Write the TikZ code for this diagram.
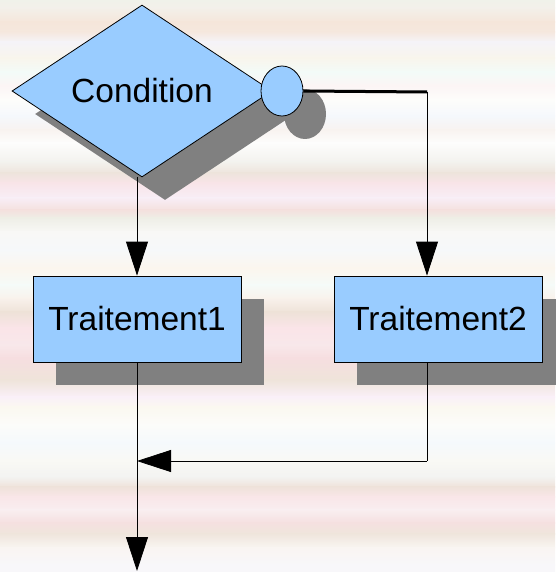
\documentclass[tikz,border=0pt]{standalone}
\usepackage{fontspec}
\setmainfont{Liberation Sans}
\usetikzlibrary{shapes.geometric,arrows.meta,shadows}

\definecolor{boxblue}{HTML}{99CCFF}
\definecolor{shadowgray}{HTML}{808080}

\begin{document}
\begin{tikzpicture}[x=1pt,y=-1pt,
  shadowed/.style={drop shadow={shadow xshift=23pt,shadow yshift=-23pt,
      shadow scale=1,opacity=1,fill=shadowgray,draw=none}},
  shapebase/.style={draw=black,line width=0.8pt,fill=boxblue,inner sep=0pt,
      font=\fontsize{33.5}{40}\selectfont,shadowed},
  decision/.style={shapebase,diamond,aspect=1.51,minimum width=260pt,minimum height=172pt},
  connector/.style={shapebase,ellipse,minimum width=42pt,minimum height=50pt},
  process/.style={shapebase,rectangle,minimum width=208pt,minimum height=86pt},
  link/.style={draw=black,line width=0.8pt},
  flow/.style={link,-{Triangle[length=34pt,width=22pt]}},
  thickflow/.style={draw=black,line width=3pt}
]
% striped pastel background
\useasboundingbox (0,0) rectangle (555,572);
\foreach \ya/\ca/\yb/\cb in {0/F0F2EA/8/F3F0EA, 8/F3F0EA/22/F5E6DA, 22/F5E6DA/32/F5E8DE,
  32/F5E8DE/42/F5F3F8, 42/F5F3F8/58/F8F5EC, 58/F8F5EC/72/F3FBF8, 72/F3FBF8/86/FCF5F5,
  86/FCF5F5/100/FDFDFB, 100/FDFDFB/116/F5F8FC, 116/F5F8FC/130/F8F3F0, 130/F8F3F0/143/FDFDFC,
  143/FDFDFC/162/F3F2EE, 162/F3F2EE/173/EEE4DC, 173/EEE4DC/183/F8E4E8, 183/F8E4E8/198/F8EEF6,
  198/F8EEF6/210/F4E0DE, 210/F4E0DE/218/EEEEE6, 218/EEEEE6/232/F8F8F6, 232/F8F8F6/250/F6F8FA,
  250/F6F8FA/268/FBF6EE, 268/FBF6EE/285/F5FBF8, 285/F5FBF8/298/F9F2EC, 298/F9F2EC/312/EEE2D8,
  312/EEE2D8/328/FAE4E8, 328/FAE4E8/345/F8E8EA, 345/F8E8EA/358/F6DEE0, 358/F6DEE0/380/EFE4DA,
  380/EFE4DA/397/FAF0F8, 397/FAF0F8/407/FBF8F0, 407/FBF8F0/425/FCFCFA, 425/FCFCFA/443/F5F9FC,
  443/F5F9FC/460/F9F9F5, 460/F9F9F5/477/F3F3F1, 477/F3F3F1/487/EFE2DA, 487/EFE2DA/497/F9E6E8,
  497/F9E6E8/510/F9EEF0, 510/F9EEF0/523/F5E0E0, 523/F5E0E0/534/EFE6DC, 534/EFE6DC/548/F9F5F2,
  548/F9F5F2/565/F8F7FA, 565/F8F7FA/572/F8F7FA}{
  \definecolor{bandtop}{HTML}{\ca}
  \definecolor{bandbot}{HTML}{\cb}
  \shade[top color=bandtop,bottom color=bandbot] (0,\ya-0.4) rectangle (555,\yb+0.4);
}

% nodes
\node[decision] (cond) at (142,91) {Condition};
\node[connector] (dot) at (282,91) {};
\node[process] (t1) at (137,319) {Traitement1};
\node[process] (t2) at (438,319) {Traitement2};

% routing points
\coordinate (split) at (427,92);
\coordinate (merge) at (427,461);
\coordinate (exit) at (137,571);

% connectors
\draw[flow] (t1.north |- cond.south) -- (t1.north);
\draw[thickflow] (dot.east) -- (split);
\draw[flow] (split) -- (split |- t2.north);
\draw[link] (split |- t2.south) -- (merge);
\draw[flow] (merge) -- (t1.south |- merge);
\draw[flow] (t1.south) -- (exit);
\end{tikzpicture}
\end{document}
